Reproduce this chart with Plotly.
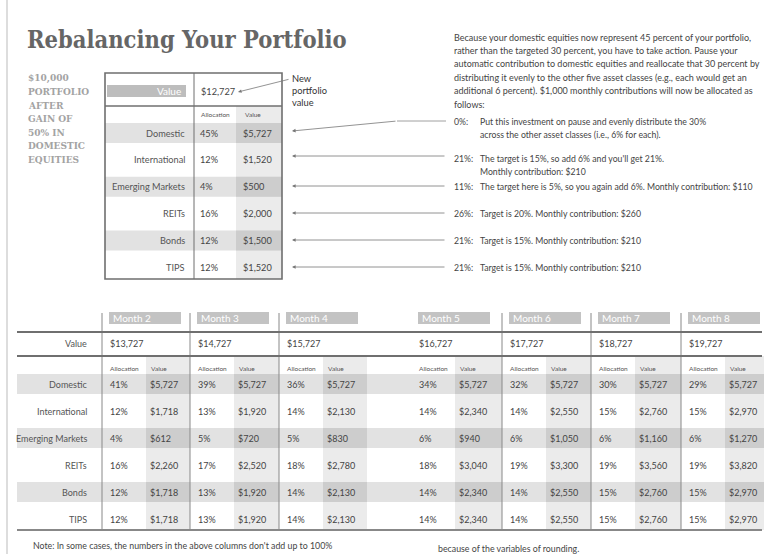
import plotly.graph_objects as go

# Rebalancing infographic: text, shaded bands and rules drawn on a pixel-sized axis

title = "Rebalancing Your Portfolio"
side_caps = ["$10,000", "PORTFOLIO", "AFTER", "GAIN OF", "50% IN", "DOMESTIC", "EQUITIES"]

asset_classes = ["Domestic", "International", "Emerging Markets", "REITs", "Bonds", "TIPS"]
start_alloc = ["45%", "12%", "4%", "16%", "12%", "12%"]
start_value = ["$5,727", "$1,520", "$500", "$2,000", "$1,500", "$1,520"]
start_total = "$12,727"

intro_lines = [
    "Because your domestic equities now represent 45 percent of your portfolio,",
    "rather than the targeted 30 percent, you have to take action. Pause your",
    "automatic contribution to domestic equities and reallocate that 30 percent by",
    "distributing it evenly to the other five asset classes (e.g., each would get an",
    "additional 6 percent). $1,000 monthly contributions will now be allocated as",
    "follows:",
]
new_alloc = ["0%:", "21%:", "11%:", "26%:", "21%:", "21%:"]
new_notes = [
    ["Put this investment on pause and evenly distribute the 30%",
     "across the other asset classes (i.e., 6% for each)."],
    ["The target is 15%, so add 6% and you'll get 21%.",
     "Monthly contribution: $210"],
    ["The target here is 5%, so you again add 6%. Monthly contribution: $110"],
    ["Target is 20%. Monthly contribution: $260"],
    ["Target is 15%. Monthly contribution: $210"],
    ["Target is 15%. Monthly contribution: $210"],
]

months = ["Month 2", "Month 3", "Month 4", "Month 5", "Month 6", "Month 7", "Month 8"]
month_totals = ["$13,727", "$14,727", "$15,727", "$16,727", "$17,727", "$18,727", "$19,727"]
dom_alloc = ["41%", "39%", "36%", "34%", "32%", "30%", "29%"]
dom_value = ["$5,727"] * 7
intl_alloc = ["12%", "13%", "14%", "14%", "14%", "15%", "15%"]
intl_value = ["$1,718", "$1,920", "$2,130", "$2,340", "$2,550", "$2,760", "$2,970"]
em_alloc = ["4%", "5%", "5%", "6%", "6%", "6%", "6%"]
em_value = ["$612", "$720", "$830", "$940", "$1,050", "$1,160", "$1,270"]
reit_alloc = ["16%", "17%", "18%", "18%", "19%", "19%", "19%"]
reit_value = ["$2,260", "$2,520", "$2,780", "$3,040", "$3,300", "$3,560", "$3,820"]
bond_alloc = ["12%", "13%", "14%", "14%", "14%", "15%", "15%"]
bond_value = ["$1,718", "$1,920", "$2,130", "$2,340", "$2,550", "$2,760", "$2,970"]
tips_alloc = ["12%", "13%", "14%", "14%", "14%", "15%", "15%"]
tips_value = ["$1,718", "$1,920", "$2,130", "$2,340", "$2,550", "$2,760", "$2,970"]

note_left = "Note: In some cases, the numbers in the above columns don't add up to 100%"
note_right = "because of the variables of rounding."

month_alloc = [dom_alloc, intl_alloc, em_alloc, reit_alloc, bond_alloc, tips_alloc]
month_value = [dom_value, intl_value, em_value, reit_value, bond_value, tips_value]

W, H = 764, 554
SANS = "Lato, 'Open Sans', sans-serif"
SLAB = "'DejaVu Serif Condensed', 'DejaVu Serif', serif"
INK = "#444"
BAND = "#e2e2e2"
COL = "#ebebeb"
CROSS = "#cdcdcd"
RULE = "#6f6f6f"

shapes = []
annotations = []


def text(x, y, s, size=8.6, color=INK, anchor="left", family=SANS):
    annotations.append(dict(x=x, y=y, xref="x", yref="y", text=s, showarrow=False,
                            xanchor=anchor, yanchor="middle",
                            font=dict(family=family, size=size, color=color)))


def rect(x0, y0, x1, y1, fill):
    shapes.append(dict(type="rect", x0=x0, y0=y0, x1=x1, y1=y1, xref="x", yref="y",
                       fillcolor=fill, line=dict(width=0), layer="below"))


def line(x0, y0, x1, y1, color=RULE, width=1):
    shapes.append(dict(type="line", x0=x0, y0=y0, x1=x1, y1=y1, xref="x", yref="y",
                       line=dict(color=color, width=width)))


def arrow(x_tail, y_tail, x_head, y_head):
    annotations.append(dict(x=x_head, y=y_head, ax=x_tail, ay=y_tail, xref="x", yref="y",
                            axref="x", ayref="y", text="", showarrow=True, arrowhead=2,
                            arrowsize=0.9, arrowwidth=0.8, arrowcolor="#777"))


# page edge
line(7, 0, 7, H, color="#dddddd", width=2)

# title and side caption
text(25, 40, "<b>" + title + "</b>", size=23.5, color="#666", family=SLAB)
for i, s in enumerate(side_caps):
    text(26, 78 + 13.5 * i, "<b>" + s + "</b>", size=10, color="#a3a3a3", family=SLAB)

# ---- top table
tx0, tx1, tdiv, tvcol = 105, 282, 194, 236
ttop, tmid, tbot = 73, 106, 279
trow0, tstep = 133, 26.9
TS = 9.2
rect(tvcol, tmid, tx1, tbot, COL)
for i, name in enumerate(asset_classes):
    y = trow0 + tstep * i
    if i % 2 == 0:
        rect(tx0, y - 10, tx1, y + 10, BAND)
        rect(tvcol, y - 10, tx1, y + 10, CROSS)
    text(187, y, name, size=TS, anchor="right", color="#555")
    text(198, y, start_alloc[i], size=TS)
    text(241, y, start_value[i], size=TS)
rect(107, 85, 186, 97, "#bdbdbd")
text(183, 91, "Value", size=10, color="white", anchor="right")
text(199, 91, start_total, size=TS)
text(199, 114, "Allocation", size=6.5, color="#555")
text(243, 114, "Value", size=6.5, color="#555")
shapes.append(dict(type="rect", x0=tx0, y0=ttop, x1=tx1, y1=tbot, xref="x", yref="y",
                   line=dict(color=RULE, width=1.6)))
line(tdiv, ttop, tdiv, tbot)
line(tx0, tmid, tx1, tmid, width=1.6)

# new portfolio value callout
arrow(290, 79, 238, 92)
for i, s in enumerate(["New", "portfolio", "value"]):
    text(290, 78 + 12 * i, s, size=9.3, color="#333")

# ---- explanation on the right
for i, s in enumerate(intro_lines):
    text(452, 37 + 13.4 * i, s, size=9)
note_y = [121, 158, 186, 213, 240, 267]
arrow_y = [121, 156, 186, 213, 240, 267]
for i, pct in enumerate(new_alloc):
    y = note_y[i]
    text(452, y, pct, size=8.7)
    for k, s in enumerate(new_notes[i]):
        text(478, y + 13.5 * k, s, size=8.7)
    if i == 0:
        line(397, arrow_y[i], 446, arrow_y[i], color="#888", width=0.8)
        arrow(397, arrow_y[i], 292, trow0 - 2)
    else:
        arrow(446, arrow_y[i], 292, arrow_y[i])

# ---- monthly table
sections = [102, 190, 279, 411, 502, 591, 681]
sec_right = [190, 279, 367, 502, 591, 681, 764]
dividers = [102, 190, 279, 502, 591, 681]
vc_off = 44
bx0, bx1 = 17, 762
r_top, r_val, r_hdr, r_bot = 313, 332, 356, 530
brow0, bstep = 384, 27
BS = 9

for j in range(len(months)):
    rect(sections[j] + vc_off, r_hdr, sec_right[j], r_bot, COL)
for i, name in enumerate(asset_classes):
    y = brow0 + bstep * i
    if i % 2 == 0:
        rect(bx0, y - 10, bx1, y + 10, BAND)
        for j in range(len(months)):
            rect(sections[j] + vc_off, y - 10, sec_right[j], y + 10, CROSS)
    text(89, y, name, size=BS, anchor="right", color="#555")
    for j in range(len(months)):
        text(sections[j] + 6, y, month_alloc[i][j], size=BS)
        text(sections[j] + vc_off + 2, y, month_value[i][j], size=BS)

text(89, 343, "Value", size=BS, anchor="right", color="#555")
for j, m in enumerate(months):
    sx = sections[j]
    rect(sx + 7, 312, sx + 79, 324, "#c3c3c3")
    text(sx + 9, 318, m, size=10, color="white")
    text(sx + 6, 343, month_totals[j], size=BS)
    text(sx + 6, 368, "Allocation", size=6.5, color="#555")
    text(sx + vc_off + 3, 368, "Value", size=6.5, color="#555")

for x in dividers:
    line(x, r_top, x, r_bot, color="#888", width=1)
line(bx0, r_val, bx1, r_val, width=2)
line(bx0, r_hdr, bx1, r_hdr, width=2)
line(bx0, r_bot, bx1, r_bot, color="#888", width=2)

text(31, 545, note_left, size=8.8)
text(436, 548, note_right, size=8.8)

fig = go.Figure()
fig.update_layout(
    width=W, height=H,
    margin=dict(l=0, r=0, t=0, b=0),
    paper_bgcolor="white", plot_bgcolor="white",
    xaxis=dict(range=[0, W], visible=False, fixedrange=True),
    yaxis=dict(range=[H, 0], visible=False, fixedrange=True),
    shapes=shapes, annotations=annotations,
    showlegend=False,
)
fig.write_html("out.html", config={"displayModeBar": False},
               post_script="document.body.style.margin='0';")
